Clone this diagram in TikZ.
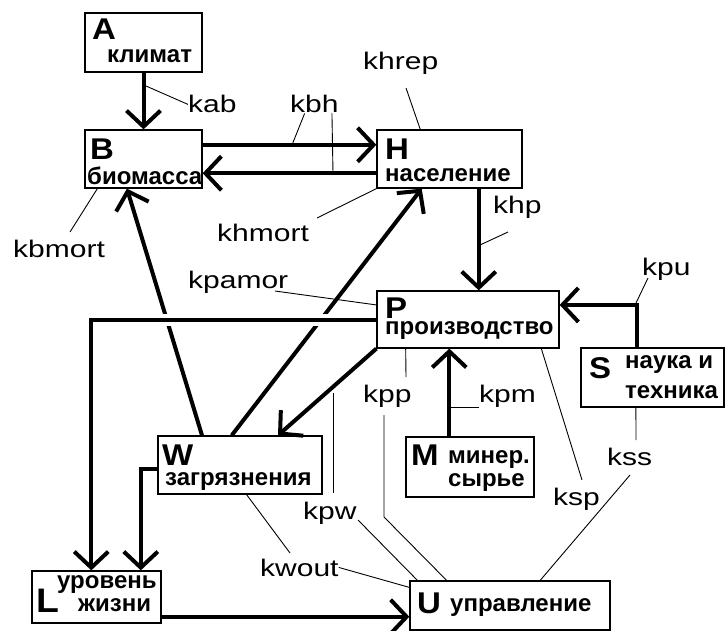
\documentclass[tikz,border=0pt]{standalone}
\usepackage{fontspec}
\setmainfont{Liberation Sans}
\newfontfamily\lblfont[FakeStretch=1.25]{Liberation Sans}
\newfontfamily\capfont[FakeStretch=1.1]{Liberation Sans}
\usetikzlibrary{arrows.meta,calc}

\tikzset{
  box/.style={draw, line width=1.3pt, inner sep=0pt},
  initial/.style={font=\capfont\fontsize{30}{30}\selectfont\bfseries, inner sep=0pt, anchor=base west},
  rus/.style={font=\fontsize{24}{24}\selectfont\bfseries, inner sep=0pt, anchor=base west},
  lbl/.style={font=\lblfont\fontsize{24}{24}\selectfont, inner sep=0pt, anchor=base west},
  flow/.style={line width=4pt, -{Straight Barb[length=16pt,width=34pt,line width=4pt]}},
  lead/.style={line width=0.9pt},
}

\begin{document}
\begin{tikzpicture}[x=1pt,y=-1pt]
\useasboundingbox (0,0) rectangle (725,631);

% blocks of the model
\node[box, minimum width=117pt, minimum height=59pt] (A) at (143.5,42.5) {};
\node[box, minimum width=117pt, minimum height=58pt] (B) at (143.5,159) {};
\node[box, minimum width=145pt, minimum height=58pt] (H) at (449.5,159) {};
\node[box, minimum width=182pt, minimum height=57pt] (P) at (468,319.5) {};
\node[box, minimum width=143pt, minimum height=59pt] (S) at (652.5,377.5) {};
\node[box, minimum width=128pt, minimum height=60pt] (M) at (470,467) {};
\node[box, minimum width=164pt, minimum height=58pt] (W) at (240,465) {};
\node[box, minimum width=129pt, minimum height=52pt] (L) at (96.5,597) {};
\node[box, minimum width=200pt, minimum height=49pt] (U) at (510,605.5) {};

% block captions
\node[initial] (Aa) at (92,40) {A};
\node[rus] (Ab) at (107,63) {климат};
\node[initial] (Ba) at (90,160) {B};
\node[rus] (Bb) at (87,185) {биомасса};
\node[initial] (Ha) at (385,160) {H};
\node[rus] (Hb) at (385,182) {население};
\node[initial] (Pa) at (385,318) {P};
\node[rus] (Pb) at (385,334) {производство};
\node[initial] (Sa) at (589,378) {S};
\node[rus] (Sb) at (625,368) {наука и};
\node[rus] (Sc) at (625,398) {техника};
\node[initial] (Ma) at (411,465) {M};
\node[rus] (Mb) at (448,463) {минер.};
\node[rus] (Mc) at (448,486) {сырье};
\node[initial] (Wa) at (162,465) {W};
\node[rus] (Wb) at (165,485) {загрязнения};
\node[initial, font=\capfont\fontsize{34}{34}\selectfont\bfseries] (La) at (36,612) {L};
\node[rus] (Lb) at (57,588) {уровень};
\node[rus] (Lc) at (78,611) {жизни};
\node[initial] (Ua) at (417,613) {U};
\node[rus] (Ub) at (450,611) {управление};

% coefficient labels
\node[lbl] (kab) at (188,113) {kab};
\node[lbl] (kbh) at (290,113) {kbh};
\node[lbl] (khrep) at (363,70) {khrep};
\node[lbl] (kbmort) at (13,257) {kbmort};
\node[lbl] (khmort) at (217,241) {khmort};
\node[lbl] (khp) at (493,213) {khp};
\node[lbl] (kpamor) at (188,288) {kpamor};
\node[lbl] (kpu) at (642,275) {kpu};
\node[lbl] (kpp) at (363,402) {kpp};
\node[lbl] (kpm) at (479,402) {kpm};
\node[lbl] (ksp) at (553,505) {ksp};
\node[lbl] (kss) at (607,465) {kss};
\node[lbl] (kpw) at (303,519) {kpw};
\node[lbl] (kwout) at (260,576) {kwout};

% flows between blocks
\draw[flow] (A.south) -- (B.north);
\draw[flow] ($(B.north east)!0.26!(B.south east)$) -- ($(H.north west)!0.26!(H.south west)$);
\draw[flow] ($(H.north west)!0.74!(H.south west)$) -- ($(B.north east)!0.74!(B.south east)$);
\coordinate (hp) at ($(H.south west)!0.7!(H.south east)$);
\draw[flow] (hp) -- (hp |- P.north);
\draw[flow] ($(W.north west)!0.27!(W.north east)$) -- ($(B.south west)!0.36!(B.south east)$);
\draw[flow] ($(W.north west)!0.45!(W.north east)$) -- ($(H.south west)!0.31!(H.south east)$);
\coordinate (pl) at ($(L.north west)!0.46!(L.north east)$);
\draw[white, line width=12pt] ($(P.west)+(-12,0)$) -- ($(pl |- P.west)+(12,0)$);
\draw[flow] (P.west) -| (pl);
\draw[flow] ($(W.north west)!0.57!(W.south west)$) -| ($(L.north west)!0.84!(L.north east)$);
\draw[flow] (P.south west) -- ($(W.north west)!0.73!(W.north east)$);
\coordinate (mp) at ($(M.north west)!0.34!(M.north east)$);
\draw[flow] (mp) -- (mp |- P.south);
\coordinate (sp) at ($(S.north west)!0.39!(S.north east)$);
\draw[flow] (sp) |- ($(P.north east)!0.25!(P.south east)$);
\coordinate (lu) at ($(L.north east)!0.87!(L.south east)$);
\draw[flow] (lu) -- (lu -| U.west);

% leader lines of the coefficients
\coordinate (kab1) at (146,86);
\draw[lead] (kab1) -- (kab.west);
\coordinate (kbh1) at (292,145);
\draw[lead] ($(kbh.south west)!0.3!(kbh.south east)$) -- (kbh1);
\coordinate (kbh2) at (333,173);
\draw[lead] ($(kbh.south west)!0.86!(kbh.south east)$) -- (kbh2);
\coordinate (khrep1) at (406,88);
\draw[lead] (khrep1) -- ($(H.north west)!0.3!(H.north east)$);
\coordinate (kbmort1) at (70,232);
\draw[lead] ($(B.south west)!0.11!(B.south east)$) -- (kbmort1);
\coordinate (khmort1) at (317,218);
\draw[lead] (khmort1) -- (H.south west);
\coordinate (khp1) at (508,232);
\coordinate (khp2) at (480,245);
\draw[lead] (khp1) -- (khp2);
\coordinate (kpamor1) at (275,291);
\draw[lead] (kpamor1) -- ($(P.north west)!0.25!(P.south west)$);
\coordinate (kpu1) at (648,278);
\coordinate (kpu2) at (636,303);
\draw[lead] (kpu1) -- (kpu2);
\coordinate (kpp1) at (406,377);
\draw[lead] ($(P.south west)!0.16!(P.south east)$) -- (kpp1);
\coordinate (kpp2) at (384,415);
\draw[lead] (kpp2) -- ++(0,102) -- ($(U.north west)!0.185!(U.north east)$);
\coordinate (kpm1) at (449,407);
\draw[lead] (kpm1) -- (kpm1 -| kpm.west);
\coordinate (ksp1) at (582,480);
\draw[lead] ($(P.south west)!0.9!(P.south east)$) -- (ksp1);
\coordinate (kss1) at (636,440);
\draw[lead] ($(S.south west)!0.385!(S.south east)$) -- (kss1);
\coordinate (kss2) at (630,475);
\draw[lead] (kss2) -- ($(U.north west)!0.65!(U.north east)$);
\coordinate (kpw1) at (333,393);
\coordinate (kpw2) at (333,493);
\draw[lead] (kpw1) -- (kpw2);
\coordinate (kpw3) at (358,520);
\draw[lead] (kpw3) -- ($(U.north west)!0.04!(U.north east)$);
\coordinate (kwout1) at (290,553);
\draw[lead] ($(W.south west)!0.54!(W.south east)$) -- (kwout1);
\draw[lead] (kwout.east) -- ($(U.north west)!0.14!(U.south west)$);
\end{tikzpicture}
\end{document}
